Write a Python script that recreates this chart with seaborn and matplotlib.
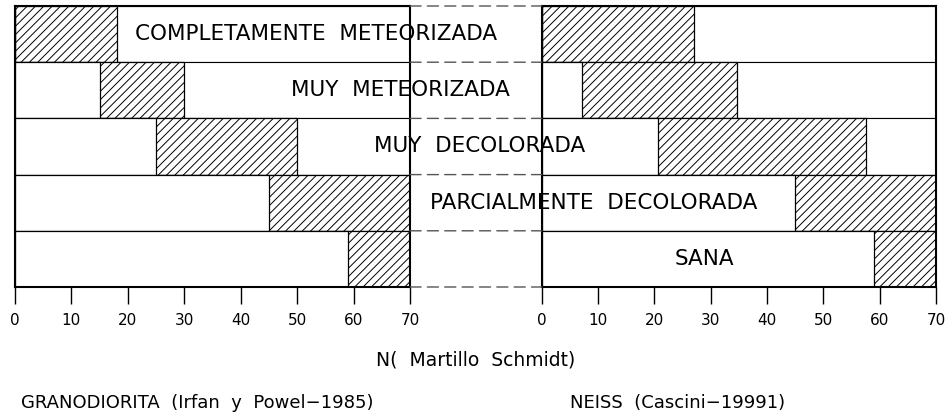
import matplotlib
matplotlib.use("Agg")
import matplotlib.pyplot as plt
import matplotlib.transforms as mtransforms
from matplotlib.patches import ConnectionPatch
import seaborn as sns
import pandas as pd

# ---------------- data ----------------
categories = ["COMPLETAMENTE  METEORIZADA", "MUY  METEORIZADA", "MUY  DECOLORADA",
              "PARCIALMENTE  DECOLORADA", "SANA"]
grano_start = [0, 15, 25, 45, 59]
grano_end = [18, 30, 50, 70, 70]
neiss_start = [0, 7.2, 20.7, 45, 59]
neiss_end = [27, 34.7, 57.5, 70, 70]
x_max = 70
x_ticks = [0, 10, 20, 30, 40, 50, 60, 70]
x_label = "N(  Martillo  Schmidt)"
left_title = "GRANODIORITA  (Irfan  y  Powel\u22121985)"
right_title = "NEISS  (Cascini\u221219991)"

# ---------------- layout ----------------
W, H = 950, 419
label_x_px = [316, 400, 480, 594, 704]

sns.set_style("white")
plt.rcParams["font.family"] = ["DejaVu Sans"]
plt.rcParams["text.color"] = "black"
plt.rcParams["hatch.linewidth"] = 0.7
plt.rcParams["hatch.color"] = "black"

fig = plt.figure(figsize=(W / 100, H / 100), dpi=100)
ax_l = fig.add_axes([15 / W, 1 - 287 / H, (410 - 15) / W, (287 - 6) / H])
ax_r = fig.add_axes([541.7 / W, 1 - 287 / H, (936 - 541.7) / W, (287 - 6) / H])


def draw(ax, start, end):
    full = pd.DataFrame({"cat": categories, "val": [x_max] * len(categories)})
    dend = pd.DataFrame({"cat": categories, "val": end})
    dstart = pd.DataFrame({"cat": categories, "val": start})
    common = dict(y="cat", x="val", orient="h", width=1.0, errorbar=None,
                  saturation=1, edgecolor="black", ax=ax, order=categories)
    sns.barplot(data=full, color="white", linewidth=0.8, **common)
    sns.barplot(data=dend, color="white", linewidth=0.9, hatch="////", **common)
    sns.barplot(data=dstart, color="white", linewidth=0.9, **common)
    ax.set_xlim(0, x_max)
    ax.set_ylim(len(categories) - 0.5, -0.5)
    ax.set_xticks(x_ticks)
    ax.set_yticks([])
    ax.set_xlabel("")
    ax.set_ylabel("")
    ax.tick_params(axis="x", direction="out", length=12, width=1, pad=7,
                   labelsize=11, colors="black", bottom=True)
    for s in ax.spines.values():
        s.set_visible(True)
        s.set_color("black")
        s.set_linewidth(1.5)


draw(ax_l, grano_start, grano_end)
draw(ax_r, neiss_start, neiss_end)

# dashed connectors between panels at the row boundaries
for yb in [i - 0.5 for i in range(len(categories) + 1)]:
    con = ConnectionPatch(xyA=(x_max, yb), coordsA=ax_l.transData,
                          xyB=(0, yb), coordsB=ax_r.transData,
                          linestyle=(0, (8, 4.5)), color="#555555", linewidth=1.0)
    fig.add_artist(con)

# row labels spanning both panels
trans = mtransforms.blended_transform_factory(fig.transFigure, ax_l.transData)
for i, (cat, xp) in enumerate(zip(categories, label_x_px)):
    fig.text(xp / W, i, cat, transform=trans, ha="center", va="center",
             fontsize=15.5, color="black", zorder=10)

fig.text(476 / W, 1 - 360 / H, x_label, ha="center", va="center", fontsize=13.5, color="black")
fig.text(21 / W, 1 - 403 / H, left_title, ha="left", va="center", fontsize=13, color="black")
fig.text(570 / W, 1 - 403 / H, right_title, ha="left", va="center", fontsize=13, color="black")

fig.savefig("out.png", dpi=100, facecolor="white")
